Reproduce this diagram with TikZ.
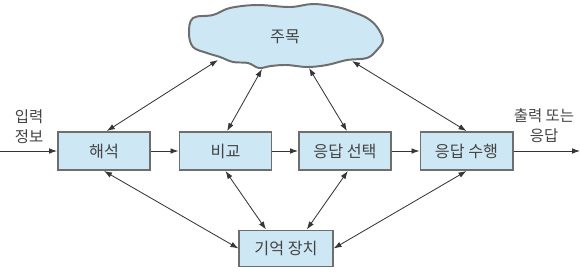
\documentclass[tikz,border=0pt]{standalone}
\usepackage{fontspec}
\setmainfont{Noto Sans CJK KR}
\usetikzlibrary{positioning,arrows.meta,calc}
\definecolor{boxfill}{HTML}{CDE7F5}
\definecolor{boxline}{HTML}{6E6E6E}
\definecolor{inkgray}{HTML}{444444}
\tikzset{
  flowarrow/.style={-{Latex[length=2mm,width=1.4mm]}, line width=0.6pt, inkgray!80!black},
  duoarrow/.style={{Latex[length=2mm,width=1.4mm]}-{Latex[length=2mm,width=1.4mm]}, line width=0.6pt, inkgray!80!black},
  stagebox/.style={draw=boxline, line width=1.4pt, fill=boxfill, minimum width=2.3cm, minimum height=0.95cm, align=center, text=inkgray},
  memnode/.style={draw=boxline, line width=1.4pt, fill=boxfill, minimum width=2.33cm, minimum height=0.9cm, align=center, text=inkgray},
  sidelabel/.style={align=center, text=inkgray, font=\fontsize{11}{14.2}\selectfont}
}

\begin{document}
\begin{tikzpicture}[x=0.025cm, y=-0.025cm, every node/.style={font=\fontsize{11.5}{13}\selectfont}]
  \useasboundingbox (0,0) rectangle (580,271);
  % cloud
  \draw[boxline, line width=1.4pt, fill=boxfill] plot[smooth cycle, tension=0.6] coordinates {
    (193,18) (213,15) (230,8) (257,5) (290,7) (313,4) (337,7) (353,12) (367,18)
    (377,27) (383,40) (377,50) (367,58) (347,60) (327,65) (307,67) (287,65)
    (271,66) (259,68) (248,63) (233,62) (220,57) (207,53) (193,47) (189,33)};
  \node[text=inkgray] (attn) at (285,37) {주목};
  \coordinate (c1) at (218,60);
  \coordinate (c2) at (262,69);
  \coordinate (c3) at (309,68);
  \coordinate (c4) at (352,61);
  % stages
  \node[stagebox] (hs) at (104,151) {해석};
  \node[stagebox] (bg) at (225.5,151) {비교};
  \node[stagebox] (sel) at (345,151) {응답 선택};
  \node[stagebox] (act) at (466.5,151) {응답 수행};
  \node[memnode] (mem) at (286,248.5) {기억 장치};
  \coordinate (in) at (0,151);
  \coordinate (out) at (580,151);
  \node[sidelabel] (inlbl) at (29,127) {입력\\정보};
  \node[sidelabel] (outlbl) at (544,126) {출력 또는\\응답};
  % main flow
  \draw[flowarrow] (in) -- (hs);
  \draw[flowarrow] (hs) -- (bg);
  \draw[flowarrow] (bg) -- (sel);
  \draw[flowarrow] (sel) -- (act);
  \draw[flowarrow] (act) -- (out);
  % attention links
  \draw[duoarrow] ([xshift=0.07cm]hs.north) -- (c1);
  \draw[duoarrow] ([xshift=0.04cm]bg.north) -- (c2);
  \draw[duoarrow] ([xshift=0.05cm]sel.north) -- (c3);
  \draw[duoarrow] (act.north) -- (c4);
  % memory links
  \draw[duoarrow] (hs.south) -- (mem.west);
  \draw[duoarrow] (bg.south) -- ([xshift=-0.5cm]mem.north);
  \draw[duoarrow] ([xshift=0.07cm]sel.south) -- ([xshift=0.52cm]mem.north);
  \draw[duoarrow] (act.south) -- (mem.east);
\end{tikzpicture}
\end{document}
